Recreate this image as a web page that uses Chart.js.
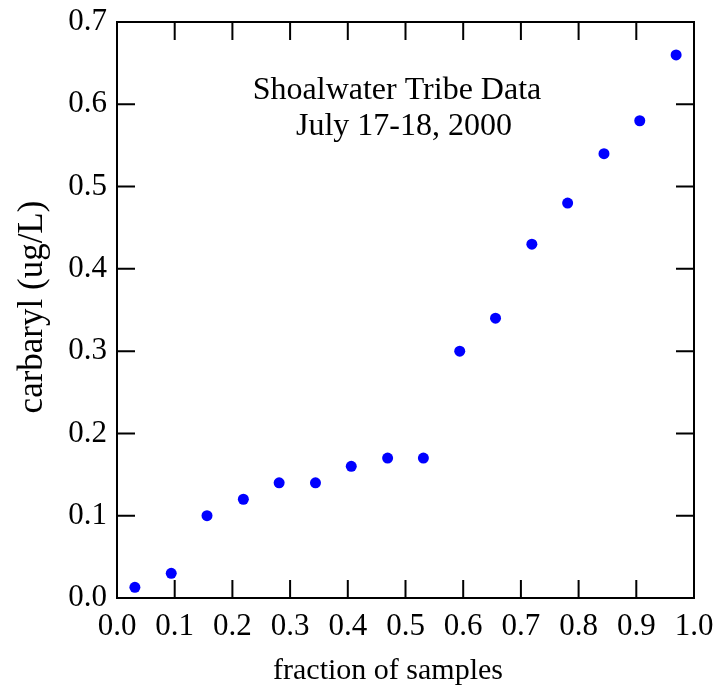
<!DOCTYPE html>
<html>
<head>
<meta charset="utf-8">
<script src="https://cdn.jsdelivr.net/npm/chart.js@4"></script>
<style>
  html, body { margin: 0; padding: 0; background: #fff; }
  #wrap { width: 714px; height: 690px; }
</style>
</head>
<body>
<div id="wrap"><canvas id="chart"></canvas></div>
<script>
// fraction of samples (x) and carbaryl concentration (y)
const fractions = [0.031, 0.094, 0.156, 0.219, 0.281, 0.344, 0.406, 0.469, 0.531, 0.594, 0.656, 0.719, 0.781, 0.844, 0.906, 0.969];
const carbaryl = [0.013, 0.030, 0.100, 0.120, 0.140, 0.140, 0.160, 0.170, 0.170, 0.300, 0.340, 0.430, 0.480, 0.540, 0.580, 0.660];
const noteLines = ['Shoalwater Tribe Data', 'July 17-18, 2000'];
const xTitle = 'fraction of samples';
const yTitle = 'carbaryl (ug/L)';

const serif = "'Liberation Serif', 'Times New Roman', serif";

// box around plot, inward ticks on all four sides, axis titles and the note
const framePlugin = {
  id: 'frame',
  afterDraw(chart) {
    const ctx = chart.ctx;
    const a = chart.chartArea;
    const xs = chart.scales.x, ys = chart.scales.y;
    const len = 18;
    ctx.save();
    ctx.strokeStyle = '#000';
    ctx.lineWidth = 2;
    ctx.strokeRect(a.left, a.top, a.right - a.left, a.bottom - a.top);
    ctx.beginPath();
    xs.ticks.forEach(t => {
      const px = xs.getPixelForValue(t.value);
      ctx.moveTo(px, a.bottom); ctx.lineTo(px, a.bottom - len);
      ctx.moveTo(px, a.top); ctx.lineTo(px, a.top + len);
    });
    ys.ticks.forEach(t => {
      const py = ys.getPixelForValue(t.value);
      ctx.moveTo(a.left, py); ctx.lineTo(a.left + len, py);
      ctx.moveTo(a.right, py); ctx.lineTo(a.right - len, py);
    });
    ctx.stroke();

    ctx.fillStyle = '#000';
    ctx.textAlign = 'center';
    ctx.textBaseline = 'alphabetic';
    ctx.font = '32px ' + serif;
    ctx.fillText(noteLines[0], 397, 99);
    ctx.fillText(noteLines[1], 404, 135);

    ctx.font = '30px ' + serif;
    ctx.fillText(xTitle, 388, 679);

    ctx.translate(42, 307);
    ctx.rotate(-Math.PI / 2);
    ctx.font = '35px ' + serif;
    ctx.fillText(yTitle, 0, 0);
    ctx.restore();
  }
};

const ctx = document.getElementById('chart').getContext('2d');
const chart = new Chart(ctx, {
  type: 'scatter',
  data: {
    datasets: [{
      label: 'carbaryl',
      data: fractions.map((f, i) => ({ x: f, y: carbaryl[i] })),
      backgroundColor: '#0000ff',
      borderWidth: 0,
      pointRadius: 5.5,
      pointHoverRadius: 5.5
    }]
  },
  options: {
    responsive: true,
    maintainAspectRatio: false,
    animation: false,
    layout: { padding: { top: 22, right: 20, left: 0, bottom: 0 } },
    plugins: {
      legend: { display: false },
      tooltip: { enabled: false }
    },
    scales: {
      x: {
        type: 'linear',
        min: 0,
        max: 1,
        afterFit: s => { s.height = 92; s.paddingLeft = 0; s.paddingRight = 0; },
        grid: { display: false, drawTicks: false },
        border: { display: false },
        ticks: {
          stepSize: 0.1,
          padding: 10,
          color: '#000',
          font: { family: serif, size: 31 },
          maxRotation: 0,
          callback: v => v.toFixed(1)
        }
      },
      y: {
        type: 'linear',
        min: 0,
        max: 0.7,
        afterFit: s => { s.width = 117; s.paddingTop = 0; s.paddingBottom = 0; },
        grid: { display: false, drawTicks: false },
        border: { display: false },
        ticks: {
          stepSize: 0.1,
          padding: 10,
          color: '#000',
          font: { family: serif, size: 31 },
          callback: v => v.toFixed(1)
        }
      }
    }
  },
  plugins: [framePlugin]
});
</script>
</body>
</html>
